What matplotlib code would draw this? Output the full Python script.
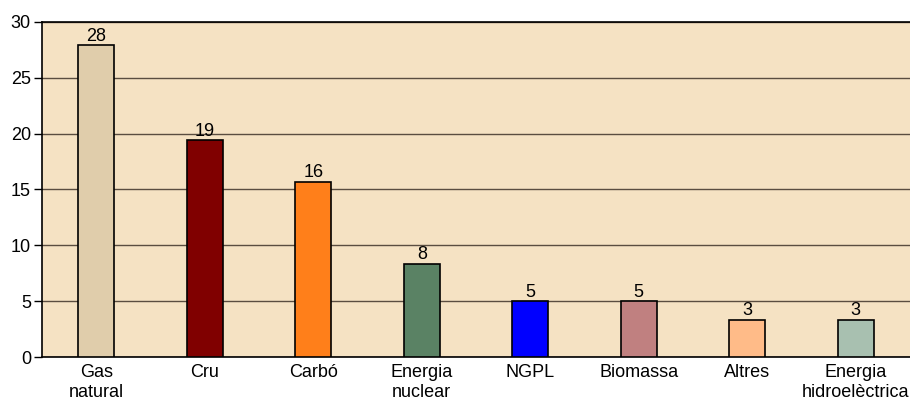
import matplotlib.pyplot as plt
import numpy as np

categories = ["Gas\nnatural", "Cru", "Carbó", "Energia\nnuclear", "NGPL",
              "Biomassa", "Altres", "Energia\nhidroelèctrica"]
values = [27.9, 19.4, 15.7, 8.35, 5.0, 5.0, 3.35, 3.35]
colors = ["#e0cdab", "#800000", "#ff7f1a", "#5a8264", "#0000ff",
          "#c08080", "#ffbb88", "#a8c0b0"]

plt.rcParams["font.family"] = ["Liberation Sans", "DejaVu Sans"]

fig = plt.figure(figsize=(9.10, 4.01), dpi=100)
ax = fig.add_axes([42 / 910, 44 / 401, 1 - 42 / 910, (357 - 22) / 401])
ax.set_facecolor("#f5e2c3")

x = np.arange(len(categories))
bars = ax.bar(x, values, width=0.33, color=colors, edgecolor="black",
              linewidth=1.2, zorder=3)
for rect, v in zip(bars, values):
    ax.text(rect.get_x() + rect.get_width() / 2, v + 0.05, f"{v:.0f}",
            ha="center", va="bottom", fontsize=13, zorder=4)

ax.set_xlim(-0.5, len(categories) - 0.5)
ax.set_ylim(0, 30)
ax.set_yticks(range(0, 31, 5))
ax.set_xticks(x)
ax.set_xticklabels(categories, fontsize=13, linespacing=1.2)
ax.tick_params(axis="y", labelsize=13, length=6, width=1, pad=2)
ax.tick_params(axis="x", length=0, pad=5)
ax.yaxis.grid(True, color="#5a4d40", linewidth=1, zorder=1)

ax.spines["right"].set_visible(False)
for side in ("left", "top", "bottom"):
    ax.spines[side].set_linewidth(1.2)
    ax.spines[side].set_color("black")

fig.savefig("out.png", dpi=100)
